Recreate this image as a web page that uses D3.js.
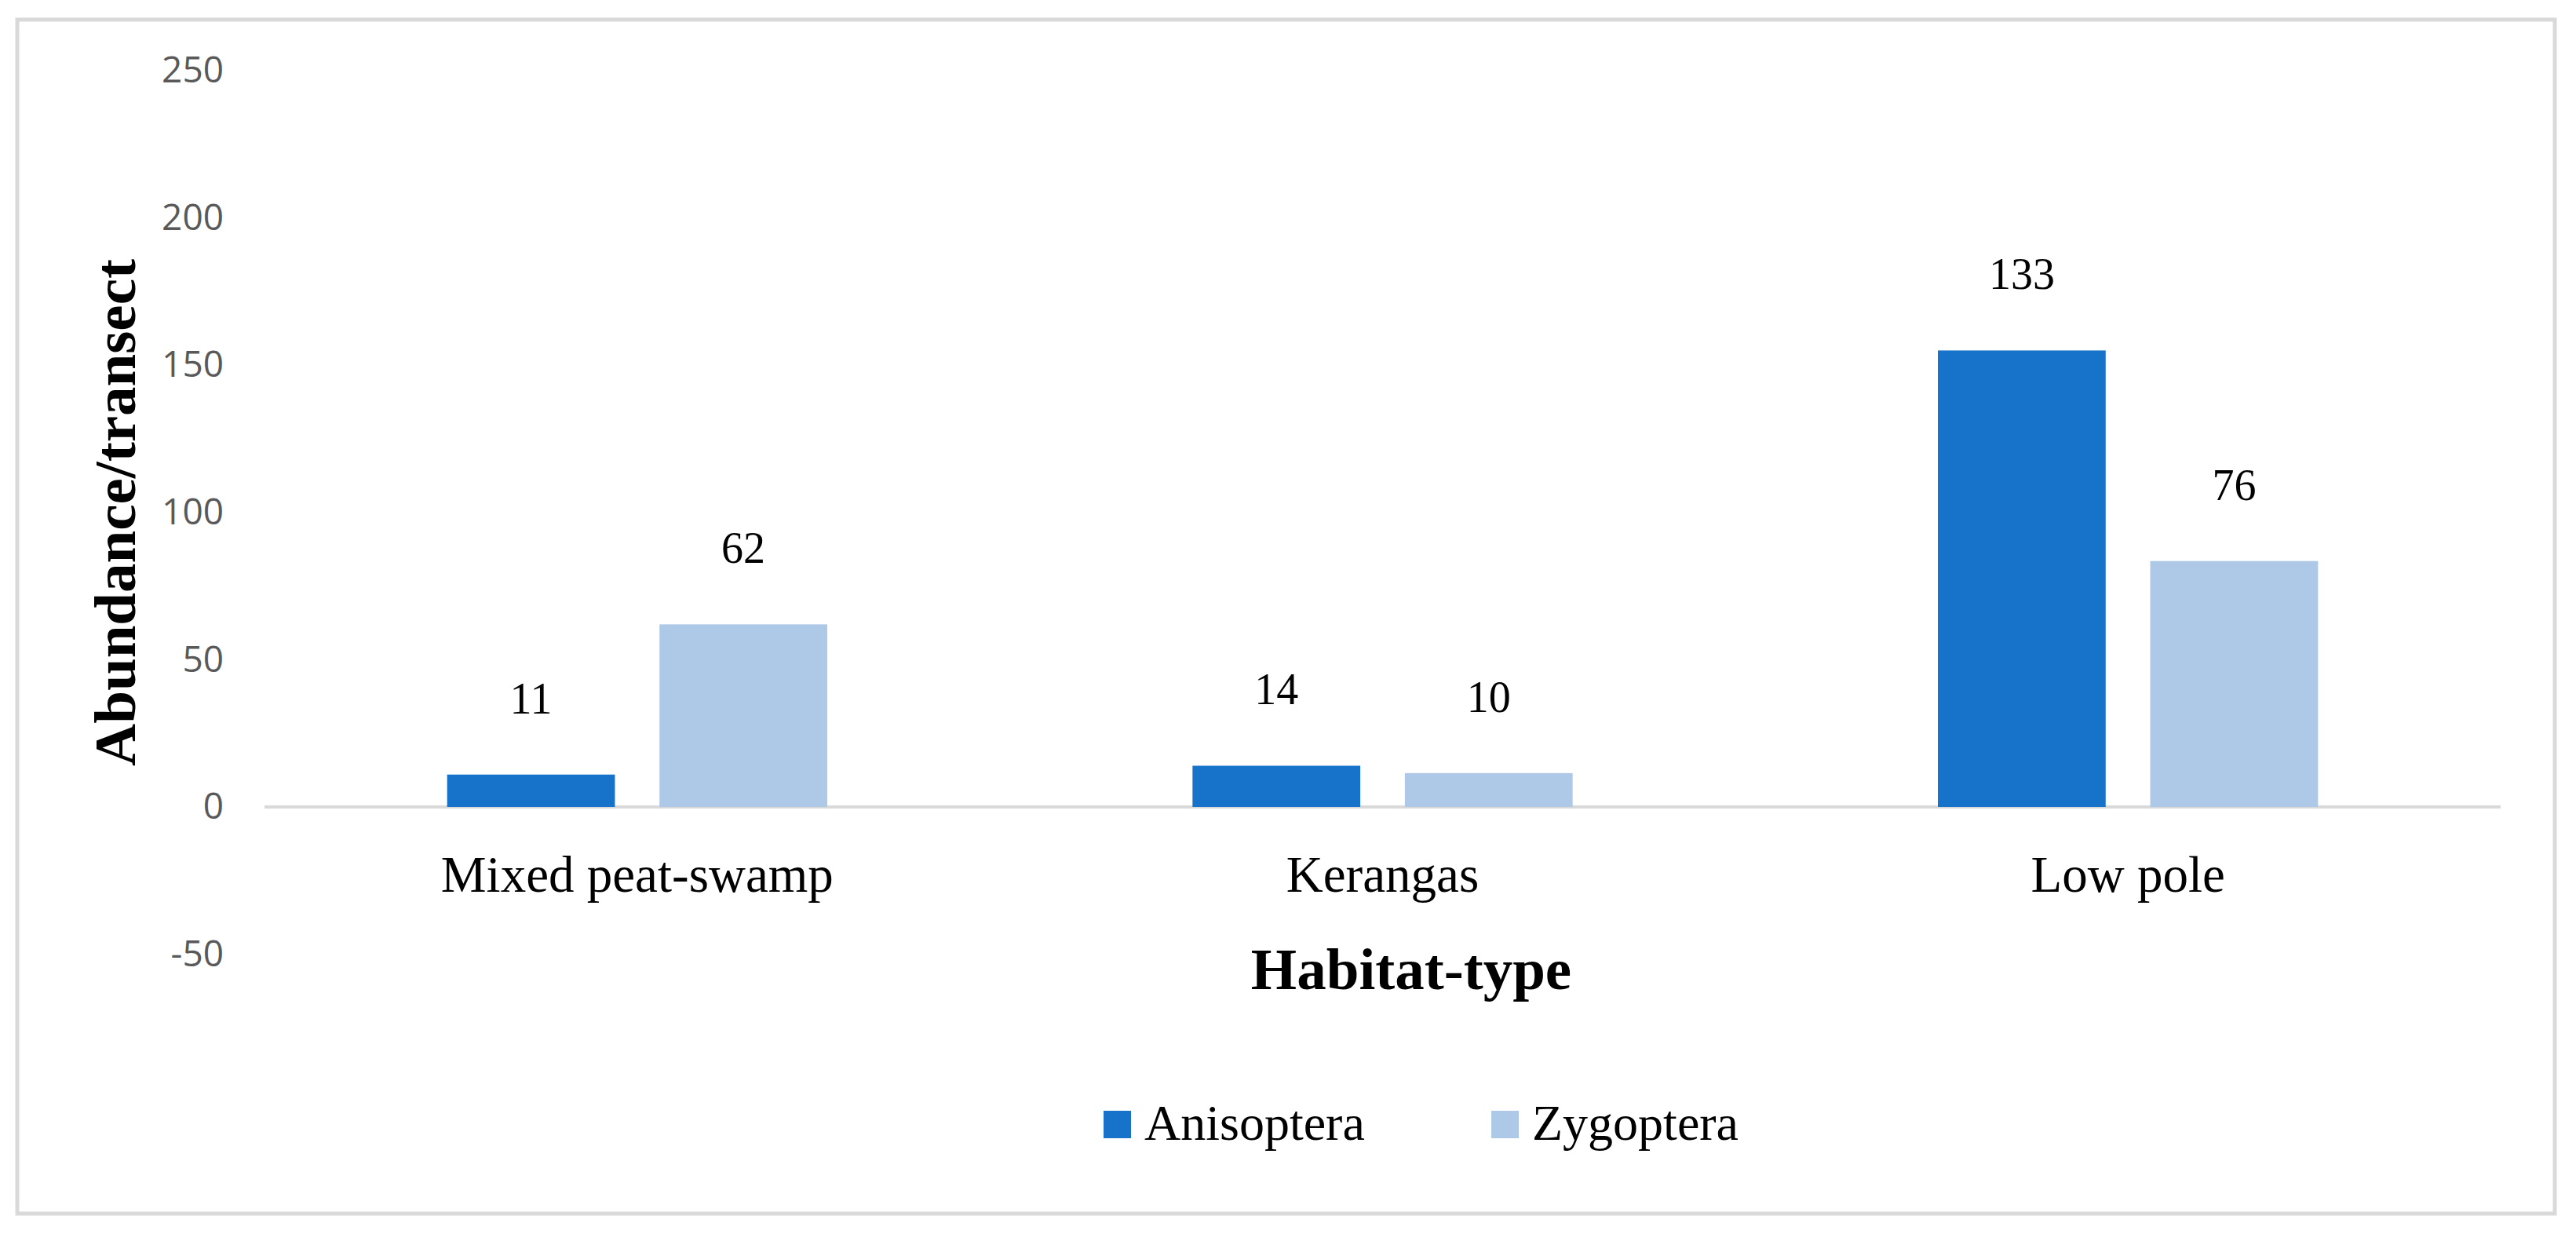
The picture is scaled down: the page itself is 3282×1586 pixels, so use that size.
<!DOCTYPE html>
<html>
<head>
<meta charset="utf-8">
<script src="https://cdn.jsdelivr.net/npm/d3@7"></script>
<style>
  body { margin: 0; background: #fff; }
  svg { display: block; }
</style>
</head>
<body>
<script>
var width = 3282, height = 1586;

// values (bar heights on the axis) and the printed labels
var habitats = ['Mixed peat-swamp', 'Kerangas', 'Low pole'];
var seriesNames = ['Anisoptera', 'Zygoptera'];
var anisoptera = [11, 14, 155];
var zygoptera = [62, 11.5, 83.5];
var anisopteraLabels = ['11', '14', '133'];
var zygopteraLabels = ['62', '10', '76'];
var yTicks = [-50, 0, 50, 100, 150, 200, 250];

var colors = { 'Anisoptera': '#1772c9', 'Zygoptera': '#aec8e8' };
var serif = '"Liberation Serif", "Times New Roman", serif';

var svg = d3.select('body').append('svg')
  .attr('width', width).attr('height', height);

// outer frame
svg.append('rect')
  .attr('x', 22).attr('y', 25)
  .attr('width', 3233).attr('height', 1521)
  .attr('fill', '#fff')
  .attr('stroke', '#d9d9d9').attr('stroke-width', 5);

var y = d3.scaleLinear().domain([-50, 250]).range([1215.6, 90]);
var x0 = d3.scaleBand().domain(habitats).range([337, 3186]);
var x1 = d3.scaleBand().domain(seriesNames).range([0, x0.bandwidth()])
  .paddingInner(0.21).paddingOuter(0.86);

// y tick labels (no line, Excel style, plain hyphen for negatives)
var yAxis = d3.axisLeft(y).tickValues(yTicks).tickSize(0).tickPadding(0)
  .tickFormat(function(d) { return String(d); });
var gy = svg.append('g').attr('transform', 'translate(285,0)').call(yAxis);
gy.select('.domain').remove();
gy.selectAll('text')
  .attr('font-family', '"Open Sans", sans-serif')
  .attr('font-size', 46)
  .attr('fill', '#595959');

// zero line
svg.append('line')
  .attr('x1', 337).attr('x2', 3186)
  .attr('y1', y(0)).attr('y2', y(0))
  .attr('stroke', '#d9d9d9').attr('stroke-width', 4);

var rows = habitats.map(function(h, i) {
  return [
    { cat: h, name: 'Anisoptera', value: anisoptera[i], label: anisopteraLabels[i] },
    { cat: h, name: 'Zygoptera', value: zygoptera[i], label: zygopteraLabels[i] }
  ];
});

var groups = svg.selectAll('g.group')
  .data(rows)
  .enter().append('g').attr('class', 'group')
  .attr('transform', function(d, i) { return 'translate(' + x0(habitats[i]) + ',0)'; });

groups.selectAll('rect')
  .data(function(d) { return d; })
  .enter().append('rect')
  .attr('x', function(d) { return x1(d.name); })
  .attr('width', x1.bandwidth())
  .attr('y', function(d) { return y(d.value); })
  .attr('height', function(d) { return y(0) - y(d.value); })
  .attr('fill', function(d) { return colors[d.name]; });

groups.selectAll('text')
  .data(function(d) { return d; })
  .enter().append('text')
  .attr('x', function(d) { return x1(d.name) + x1.bandwidth() / 2; })
  .attr('y', function(d) { return y(d.value) - 78; })
  .attr('text-anchor', 'middle')
  .attr('font-family', serif)
  .attr('font-size', 56)
  .attr('fill', '#000')
  .text(function(d) { return d.label; });

// category labels
svg.selectAll('text.cat')
  .data(habitats)
  .enter().append('text').attr('class', 'cat')
  .attr('x', function(d) { return x0(d) + x0.bandwidth() / 2; })
  .attr('y', 1136)
  .attr('text-anchor', 'middle')
  .attr('font-family', serif)
  .attr('font-size', 65)
  .attr('fill', '#000')
  .text(function(d) { return d; });

// axis titles
svg.append('text')
  .attr('x', 1798).attr('y', 1260)
  .attr('text-anchor', 'middle')
  .attr('font-family', serif).attr('font-weight', 'bold')
  .attr('font-size', 75)
  .text('Habitat-type');

svg.append('text')
  .attr('transform', 'translate(172,653) rotate(-90)')
  .attr('text-anchor', 'middle')
  .attr('font-family', serif).attr('font-weight', 'bold')
  .attr('font-size', 75)
  .text('Abundance/transect');

// legend
var legendX = [1406, 1900];
var leg = svg.selectAll('g.legend')
  .data(seriesNames)
  .enter().append('g').attr('class', 'legend')
  .attr('transform', function(d, i) { return 'translate(' + legendX[i] + ',1415)'; });
leg.append('rect')
  .attr('width', 35).attr('height', 35)
  .attr('fill', function(d) { return colors[d]; });
leg.append('text')
  .attr('x', 52).attr('y', 37)
  .attr('font-family', serif)
  .attr('font-size', 64)
  .text(function(d) { return d; });
</script>
</body>
</html>
